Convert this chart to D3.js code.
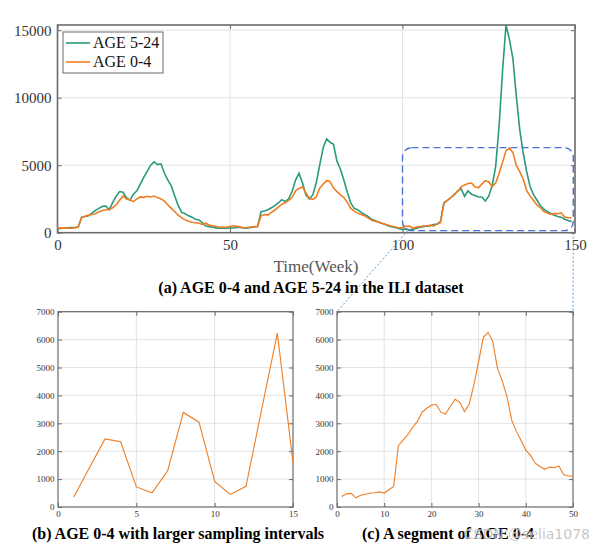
<!DOCTYPE html>
<html><head><meta charset="utf-8">
<script src="https://cdn.jsdelivr.net/npm/d3@7"></script>
<style>body{margin:0;background:#fff}svg{display:block}</style>
</head><body>
<svg id="c" width="604" height="547"></svg>
<script>
// ---------- DATA ----------
const seriesNames = ["AGE 5-24", "AGE 0-4"];
// AGE 5-24, weeks 0..149
const age524 = [300,320,340,360,380,390,420,1150,1200,1250,1450,1650,1800,1950,1980,1700,2250,2700,3050,3000,
2600,2400,2850,3100,3600,4100,4550,5000,5250,5050,5100,4400,3900,3450,2700,2000,1500,1400,1250,1150,
1000,950,750,500,450,400,350,340,330,340,360,350,400,380,350,330,380,420,450,1550,
1600,1700,1850,2000,2200,2450,2300,2500,3050,3900,4400,3700,2800,2500,2800,3700,5000,6300,6950,6700,
6550,5300,4700,3900,3000,2200,1800,1700,1500,1350,1200,1000,900,800,700,600,500,420,380,300,
250,280,200,250,320,400,450,500,520,600,650,820,2200,2400,2600,2800,3100,3250,2700,3100,
2850,2750,2650,2650,2350,2700,3500,4900,7900,12000,15380,14300,12900,10100,7600,5900,4500,3400,2800,2400,
2000,1750,1550,1400,1300,1200,1150,1000,900,820];
// AGE 0-4, weeks 0..99
const age04First = [330,360,340,350,330,360,420,1150,1220,1300,1350,1400,1550,1650,1700,1720,1850,2050,2400,2720,
2500,2440,2300,2500,2650,2620,2700,2650,2720,2600,2500,2340,2050,1800,1550,1300,1100,950,850,780,
740,720,600,700,560,520,450,420,400,420,450,510,470,430,350,380,420,450,460,1250,
1350,1300,1500,1680,1900,2100,2220,2400,2600,3100,3280,3390,2950,2550,2470,2650,3300,3600,3850,3800,
3300,3040,2800,2600,2250,1800,1600,1450,1350,1250,1100,920,850,780,700,620,550,480,420,350];
// AGE 0-4 segment (weeks 100..149), x = 1..50
const segment = [380,470,490,330,420,460,500,510,540,500,620,740,2200,2400,2590,2850,3060,3390,3540,3650,
3680,3400,3330,3600,3860,3760,3420,3680,4380,5210,6080,6260,5930,4970,4520,3960,3120,2710,2380,2040,
1850,1570,1450,1350,1430,1410,1470,1160,1110,1110];
// AGE 0-4 with larger sampling intervals, x = 1..15
const sampled = [360,1400,2440,2340,720,510,1300,3390,3040,920,450,740,3500,6230,1600];

const topXTicks = [0,50,100,150];
const topYTicks = [0,5000,10000,15000];
const bYTicks = [0,1000,2000,3000,4000,5000,6000,7000];
const bLeftXTicks = [0,5,10,15];
const bRightXTicks = [0,10,20,30,40,50];
const captions = ["(a) AGE 0-4 and AGE 5-24 in the ILI dataset",
  "(b) AGE 0-4 with larger sampling intervals", "(c) A segment of AGE 0-4"];

// ---------- STYLE ----------
const GREEN = "#2a9a7b", ORANGE = "#f07d22", GRID = "#e3e3e3", FRAME = "#6b6b6b", TXT = "#333";
const SERIF = "'Liberation Serif','Times New Roman',serif";

const svg = d3.select("#c");
const age04 = age04First.concat(segment);

function panel(g, x, y, xt, yt, fs, sw, fw){
  const [x0,x1] = x.range(), [y0,y1] = y.range();
  g.append("g").selectAll("line").data(xt.filter(v=>v!==x.domain()[0] && v!==x.domain()[1])).join("line")
    .attr("x1",d=>x(d)).attr("x2",d=>x(d)).attr("y1",y0).attr("y2",y1).attr("stroke",GRID).attr("stroke-width",1);
  g.append("g").selectAll("line").data(yt.filter(v=>v!==0)).join("line")
    .attr("x1",x0).attr("x2",x1).attr("y1",d=>y(d)).attr("y2",d=>y(d)).attr("stroke",GRID).attr("stroke-width",1);
  const style = a => { a.select(".domain").remove();
    a.selectAll("line").attr("stroke",FRAME);
    a.selectAll("text").attr("fill",TXT).attr("font-family",SERIF).attr("font-size",fs); };
  g.append("g").attr("transform",`translate(0,${y0})`)
    .call(d3.axisBottom(x).tickValues(xt).tickSizeInner(-4).tickSizeOuter(0).tickPadding(fs*0.45)).call(style);
  g.append("g").attr("transform",`translate(0,${y1})`)
    .call(d3.axisTop(x).tickValues(xt).tickSizeInner(-4).tickSizeOuter(0).tickFormat("")).call(style);
  g.append("g").attr("transform",`translate(${x0},0)`)
    .call(d3.axisLeft(y).tickValues(yt).tickSizeInner(-4).tickSizeOuter(0).tickPadding(fs*0.4).tickFormat(d3.format("d"))).call(style);
  g.append("g").attr("transform",`translate(${x1},0)`)
    .call(d3.axisRight(y).tickValues(yt).tickSizeInner(-4).tickSizeOuter(0).tickFormat("")).call(style);
  g.append("rect").attr("x",x0).attr("y",y1).attr("width",x1-x0).attr("height",y0-y1)
    .attr("fill","none").attr("stroke",FRAME).attr("stroke-width",fw);
}

// ---------- TOP PANEL ----------
const xT = d3.scaleLinear([0,150],[57.5,575]);
const yT = d3.scaleLinear([0,15385],[232.7,25]);
const gT = svg.append("g");
panel(gT, xT, yT, topXTicks, topYTicks, 15, 1.5, 1.6);
const lineT = (arr) => d3.line().x((d,i)=>xT(i)).y(d=>yT(d))(arr);
gT.append("path").attr("d",lineT(age524)).attr("fill","none").attr("stroke",GREEN).attr("stroke-width",1.6);
gT.append("path").attr("d",lineT(age04)).attr("fill","none").attr("stroke",ORANGE).attr("stroke-width",1.6);

// legend
const lg = gT.append("g");
lg.append("rect").attr("x",63).attr("y",32).attr("width",100).attr("height",41)
  .attr("fill","#fff").attr("stroke",FRAME).attr("stroke-width",1);
[[GREEN,seriesNames[0],43],[ORANGE,seriesNames[1],62]].forEach(([c,t,yy])=>{
  lg.append("line").attr("x1",66).attr("x2",90).attr("y1",yy).attr("y2",yy).attr("stroke",c).attr("stroke-width",1.6);
  lg.append("text").attr("x",93).attr("y",yy+5).text(t).attr("font-family",SERIF).attr("font-size",16).attr("fill","#111");
});

gT.append("text").attr("x",316).attr("y",272).attr("text-anchor","middle").text("Time(Week)")
  .attr("font-family",SERIF).attr("font-size",17).attr("fill","#555");

// zoom box
const bx0 = xT(100), bx1 = xT(149.5), by0 = yT(6300), by1 = yT(150);
svg.append("rect").attr("x",bx0).attr("y",by0).attr("width",bx1-bx0).attr("height",by1-by0)
  .attr("rx",9).attr("ry",9).attr("fill","none").attr("stroke","#4a72d8").attr("stroke-width",1.4)
  .attr("stroke-dasharray","7,4");

// ---------- BOTTOM PANELS ----------
const yB = d3.scaleLinear([0,7000],[507,311.7]);
const xL = d3.scaleLinear([0,15],[58,293]);
const xR = d3.scaleLinear([0,50],[337,573]);
const gL = svg.append("g"), gR = svg.append("g");
panel(gL, xL, yB, bLeftXTicks, bYTicks, 9, 1, 1.2);
panel(gR, xR, yB, bRightXTicks, bYTicks, 9, 1, 1.2);
gL.append("path").attr("d",d3.line().x((d,i)=>xL(i+1)).y(d=>yB(d))(sampled))
  .attr("fill","none").attr("stroke",ORANGE).attr("stroke-width",1.1);
gR.append("path").attr("d",d3.line().x((d,i)=>xR(i+1)).y(d=>yB(d))(segment))
  .attr("fill","none").attr("stroke",ORANGE).attr("stroke-width",1.1);

// connector dotted lines
svg.append("line").attr("x1",xT(101.5)).attr("y1",by1).attr("x2",xR(0)).attr("y2",yB(7000))
  .attr("stroke","#5b9bd5").attr("stroke-width",1).attr("stroke-dasharray","2,2");
svg.append("line").attr("x1",bx1).attr("y1",by1+2).attr("x2",xR(50)).attr("y2",yB(7000))
  .attr("stroke","#5b9bd5").attr("stroke-width",1).attr("stroke-dasharray","2,2");

// ---------- CAPTIONS ----------
const cap = (x,y,t)=>svg.append("text").attr("x",x).attr("y",y).attr("text-anchor","middle").text(t)
  .attr("font-family",SERIF).attr("font-size",16).attr("font-weight","bold").attr("fill","#000");
cap(311,293,captions[0]);
cap(178,539,captions[1]);
cap(448,539,captions[2]);

svg.append("text").attr("x",590).attr("y",539).attr("text-anchor","end").text("CSDN @selia1078")
  .attr("font-family","'DejaVu Sans',sans-serif").attr("font-size",14)
  .attr("fill","rgba(170,170,170,0.85)").attr("stroke","rgba(255,255,255,0.5)").attr("stroke-width",0.5);
</script>
</body></html>
